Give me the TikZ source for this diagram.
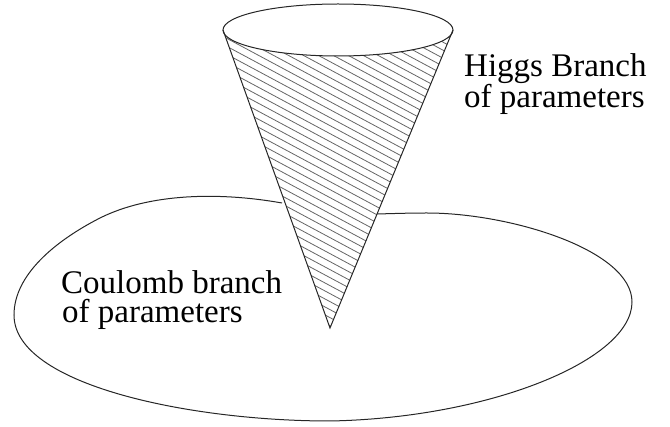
\documentclass[tikz,border=0pt]{standalone}
\usepackage{fontspec}
\setmainfont{Liberation Serif}
\usetikzlibrary{calc}
\tikzset{
  branchlabel/.style={align=left,inner sep=0pt,anchor=base west,font=\fontsize{33}{29}\selectfont},
  outline/.style={draw=black!85,line width=1pt},
  hatchline/.style={draw=black!60,line width=0.8pt}
}
\begin{document}
\begin{tikzpicture}[x=1pt,y=-1pt]
  \useasboundingbox (0,0) rectangle (670,427);
  \coordinate (apex) at (330,328);
  \coordinate (rimleft) at (223,30);
  \coordinate (rimright) at (453,30);
  % coulomb branch
  \draw[outline] (282,203) .. controls (220,192) and (150,193) .. (100,218)
    .. controls (55,241) and (14,275) .. (14,315)
    .. controls (14,385) and (190,421) .. (330,421)
    .. controls (490,418) and (632,360) .. (632,302)
    .. controls (632,250) and (510,213) .. (427,213)
    .. controls (410,213) and (395,213.5) .. (377,214);
  % higgs branch
  \begin{scope}
    \clip (rimleft) arc[start angle=180,end angle=360,x radius=115,y radius=-26] -- (apex) -- cycle;
    \foreach \h in {-120,-112,...,320}
      \draw[hatchline] (200,\h) -- (480,\h+150);
  \end{scope}
  \draw[outline] (rimleft) -- (apex) -- (rimright);
  \draw[outline] (338,30) ellipse[x radius=115,y radius=26];
  \node[branchlabel] (higgs) at (464,108) {Higgs Branch\\of parameters};
  \node[branchlabel] (coulomb) at (61,323) {Coulomb branch\\\hspace{1pt}of parameters};
\end{tikzpicture}
\end{document}
